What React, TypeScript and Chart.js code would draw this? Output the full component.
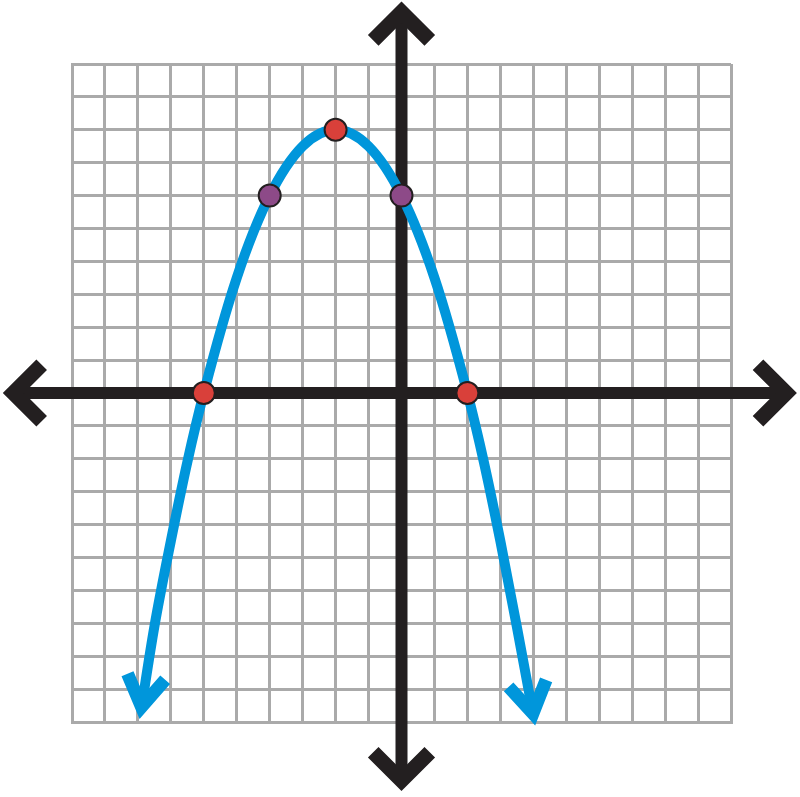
import React, { useEffect, useRef } from "react";
import { Chart, registerables } from "chart.js";

Chart.register(...registerables);

// Parabola (x, y in grid units)
const curveX = [-7.9, -7.5, -7, -6.5, -6, -5, -4, -3, -2, -1, 0, 1, 2, 2.5, 3, 3.5, 4.0];
const curveY = [-9.6, -7.1, -4.5, -2.1, 0, 3.5, 6, 7.5, 8, 7.5, 6, 3.5, 0, -2.1, -4.5, -7.1, -9.8];

// Marked points
const redX = [-6, -2, 2];
const redY = [0, 8, 0];
const purpleX = [-4, 0];
const purpleY = [6, 6];

// Grid range and axis arrow reach
const gridMin = -10;
const gridMax = 10;
const axisReachX = [-12.1, 12.0];
const axisReachY = [-12.1, 11.9];

const AXIS_COLOR = "#231f20";
const GRID_COLOR = "#aaaaaa";
const CURVE_COLOR = "#0096db";

function chevron(
  ctx: CanvasRenderingContext2D,
  tipX: number,
  tipY: number,
  dx: number,
  dy: number,
  armLen: number,
  halfAngle: number,
  width: number,
  color: string
) {
  const miter = width / 2 / Math.sin(halfAngle);
  const vx = tipX - dx * miter;
  const vy = tipY - dy * miter;
  const back = Math.atan2(-dy, -dx);
  const a1 = back + halfAngle;
  const a2 = back - halfAngle;
  ctx.save();
  ctx.beginPath();
  ctx.moveTo(vx + Math.cos(a1) * armLen, vy + Math.sin(a1) * armLen);
  ctx.lineTo(vx, vy);
  ctx.lineTo(vx + Math.cos(a2) * armLen, vy + Math.sin(a2) * armLen);
  ctx.lineWidth = width;
  ctx.strokeStyle = color;
  ctx.lineJoin = "miter";
  ctx.miterLimit = 20;
  ctx.lineCap = "butt";
  ctx.stroke();
  ctx.restore();
}

const axesPlugin = {
  id: "axesArrows",
  beforeDatasetsDraw(chart: any) {
    const ctx: CanvasRenderingContext2D = chart.ctx;
    const xs = chart.scales.x;
    const ys = chart.scales.y;
    const x0 = xs.getPixelForValue(0);
    const y0 = ys.getPixelForValue(0);
    const left = xs.getPixelForValue(axisReachX[0]);
    const right = xs.getPixelForValue(axisReachX[1]);
    const top = ys.getPixelForValue(axisReachY[1]);
    const bottom = ys.getPixelForValue(axisReachY[0]);
    const w = 12;
    const cw = 15;
    const half = Math.PI / 4;
    const miter = cw / 2 / Math.sin(half);
    ctx.save();
    ctx.strokeStyle = AXIS_COLOR;
    ctx.lineWidth = w;
    ctx.lineCap = "butt";
    ctx.beginPath();
    ctx.moveTo(left + miter, y0);
    ctx.lineTo(right - miter, y0);
    ctx.moveTo(x0, top + miter);
    ctx.lineTo(x0, bottom - miter);
    ctx.stroke();
    ctx.restore();
    chevron(ctx, left, y0, -1, 0, 40, half, cw, AXIS_COLOR);
    chevron(ctx, right, y0, 1, 0, 40, half, cw, AXIS_COLOR);
    chevron(ctx, x0, top, 0, -1, 40, half, cw, AXIS_COLOR);
    chevron(ctx, x0, bottom, 0, 1, 40, half, cw, AXIS_COLOR);
  },
  afterDatasetDraw(chart: any, args: any) {
    if (args.index !== 0) return;
    const ctx: CanvasRenderingContext2D = chart.ctx;
    const meta = chart.getDatasetMeta(0);
    const pts = meta.data;
    const ends = [
      { p: pts[0], q: pts[1], cp: "cp2" },
      { p: pts[pts.length - 1], q: pts[pts.length - 2], cp: "cp1" },
    ];
    const width = 13;
    const half = (32 * Math.PI) / 180;
    ends.forEach(({ p, q, cp }) => {
      let cx = (p as any)[cp + "x"];
      let cy = (p as any)[cp + "y"];
      if (cx === undefined || (Math.abs(cx - p.x) < 0.5 && Math.abs(cy - p.y) < 0.5)) {
        cx = q.x;
        cy = q.y;
      }
      let dx = p.x - cx;
      let dy = p.y - cy;
      const len = Math.hypot(dx, dy) || 1;
      dx /= len;
      dy /= len;
      const miter = width / 2 / Math.sin(half);
      const tipX = p.x + dx * (miter - 2);
      const tipY = p.y + dy * (miter - 2);
      chevron(ctx, tipX, tipY, dx, dy, 36, half, width, CURVE_COLOR);
    });
  },
};

export default function App() {
  const ref = useRef<HTMLCanvasElement | null>(null);

  useEffect(() => {
    if (!ref.current) return;
    const curve = curveX.map((x, i) => ({ x, y: curveY[i] }));
    const red = redX.map((x, i) => ({ x, y: redY[i] }));
    const purple = purpleX.map((x, i) => ({ x, y: purpleY[i] }));
    const chart = new Chart(ref.current, {
      type: "scatter",
      data: {
        datasets: [
          {
            data: curve,
            showLine: true,
            borderColor: CURVE_COLOR,
            borderWidth: 10,
            pointRadius: 0,
            pointHoverRadius: 0,
            cubicInterpolationMode: "monotone",
            fill: false,
            clip: false as any,
            order: 2,
          } as any,
          {
            data: red,
            showLine: false,
            pointRadius: 11,
            pointBackgroundColor: "#d9403a",
            pointBorderColor: AXIS_COLOR,
            pointBorderWidth: 2,
            clip: false as any,
            order: 1,
          } as any,
          {
            data: purple,
            showLine: false,
            pointRadius: 11,
            pointBackgroundColor: "#8d4a88",
            pointBorderColor: AXIS_COLOR,
            pointBorderWidth: 2,
            clip: false as any,
            order: 0,
          } as any,
        ],
      },
      options: {
        responsive: false,
        animation: false,
        devicePixelRatio: 1,
        layout: { padding: { left: 72, top: 64, right: 69, bottom: 75 } },
        plugins: {
          legend: { display: false },
          tooltip: { enabled: false },
        },
        events: [],
        scales: {
          x: {
            type: "linear",
            min: gridMin,
            max: gridMax,
            ticks: { display: false, stepSize: 1 },
            grid: { color: GRID_COLOR, lineWidth: 3, drawTicks: false },
            border: { display: true, color: GRID_COLOR, width: 3 },
          },
          y: {
            type: "linear",
            min: gridMin,
            max: gridMax,
            ticks: { display: false, stepSize: 1 },
            grid: { color: GRID_COLOR, lineWidth: 3, drawTicks: false },
            border: { display: true, color: GRID_COLOR, width: 3 },
          },
        },
      },
      plugins: [axesPlugin],
    });
    return () => chart.destroy();
  }, []);

  return (
    <div style={{ position: "absolute", left: 0, top: 0, width: 800, height: 797, background: "#ffffff" }}>
      <canvas ref={ref} width={800} height={797} style={{ display: "block", width: 800, height: 797 }} />
    </div>
  );
}
